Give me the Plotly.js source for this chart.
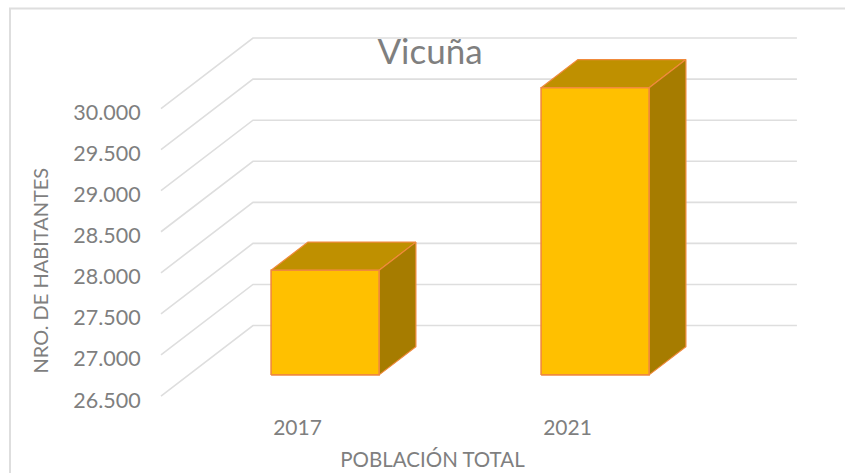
<!DOCTYPE html>
<html>
<head>
<meta charset="utf-8">
<script src="https://cdn.plot.ly/plotly-3.0.1.min.js"></script>
<style>html,body{margin:0;padding:0;background:#fff;overflow:hidden}#chart{width:845px;height:473px}</style>
</head>
<body>
<div id="chart"></div>
<script>
// Data
const years = ['2017', '2021'];
const population = [27773, 29995];
const axisTicks = [26500, 27000, 27500, 28000, 28500, 29000, 29500, 30000];
const axisLabels = ['26.500', '27.000', '27.500', '28.000', '28.500', '29.000', '29.500', '30.000'];

// Oblique projection: a point at depth z (0 front, 1 back) is shifted along this vector, in axis units
const depthX = 0.3407, depthY = 858;
const wallLeft = -0.5056, wallRight = 1.509;
const barDepthFront = 0.3, barDepthBack = 0.7;
const barHalf = 0.2;
const floorValue = axisTicks[0];

const GRID = '#dedede', EDGE = '#F08A3C', TXT = '#7f7f7f', FONT = 'Lato, sans-serif';
const traces = [];
const poly = (x, y, fill, color, width) => traces.push({
  type: 'scatter', mode: 'lines', x, y, fill: fill ? 'toself' : 'none', fillcolor: fill || undefined,
  line: {color, width}, hoverinfo: 'skip', showlegend: false
});

axisTicks.forEach(v => poly(
  [wallLeft, wallLeft + depthX, wallRight + depthX],
  [v, v + depthY, v + depthY], null, GRID, 1.6));

population.forEach((value, i) => {
  const xf = i + depthX * barDepthFront, xb = i + depthX * barDepthBack;
  const yf = depthY * barDepthFront, yb = depthY * barDepthBack;
  const l = -barHalf, r = barHalf;
  // top
  poly([xf + l, xb + l, xb + r, xf + r, xf + l],
       [value + yf, value + yb, value + yb, value + yf, value + yf], '#BF9000', EDGE, 1.2);
  // side
  poly([xf + r, xb + r, xb + r, xf + r, xf + r],
       [floorValue + yf, floorValue + yb, value + yb, value + yf, floorValue + yf], '#A67C00', EDGE, 1.2);
  // front
  poly([xf + l, xf + r, xf + r, xf + l, xf + l],
       [floorValue + yf, floorValue + yf, value + yf, value + yf, floorValue + yf], '#FFC000', EDGE, 1.6);
});

const layout = {
  width: 845, height: 473,
  margin: {l: 60, r: 40, t: 30, b: 70},
  paper_bgcolor: '#fff', plot_bgcolor: 'rgba(0,0,0,0)',
  font: {family: FONT, color: TXT},
  title: {text: 'Vicuña', x: 430 / 845, xref: 'container', xanchor: 'center',
          y: 1 - 52 / 473, yref: 'container', yanchor: 'middle',
          font: {family: FONT, size: 35, color: TXT}},
  xaxis: {
    range: [-0.8796, 1.8796], tickmode: 'array', tickvals: [0, 1], ticktext: years,
    showgrid: false, zeroline: false, showline: false, ticks: 'outside', ticklen: 6,
    tickcolor: 'rgba(0,0,0,0)', tickfont: {family: FONT, size: 21, color: TXT},
    title: {text: 'POBLACIÓN TOTAL', standoff: 14, font: {family: FONT, size: 20.5, color: TXT}}
  },
  yaxis: {
    range: [26415, 30956], anchor: 'free', position: 101 / 745,
    tickmode: 'array', tickvals: axisTicks, ticktext: axisLabels, ticklabelshift: 4,
    showgrid: false, zeroline: false, showline: false, ticks: 'outside', ticklen: 16,
    tickcolor: 'rgba(0,0,0,0)', tickfont: {family: FONT, size: 21.5, color: TXT}
  },
  annotations: [{
    text: 'NRO. DE HABITANTES', textangle: -90, showarrow: false,
    xref: 'paper', yref: 'paper', x: (39 - 60) / 745, y: (403 - 270.5) / 373,
    xanchor: 'center', yanchor: 'middle', font: {family: FONT, size: 20, color: TXT}
  }],
  shapes: [{type: 'rect', xref: 'paper', yref: 'paper', layer: 'below',
    x0: (10 - 60) / 745, x1: (870 - 60) / 745, y0: (403 - 500) / 373, y1: (403 - 8.5) / 373,
    line: {color: '#dedede', width: 2}, fillcolor: 'rgba(0,0,0,0)'}]
};
Plotly.newPlot('chart', traces, layout, {displayModeBar: false, staticPlot: true});
</script>
</body>
</html>
